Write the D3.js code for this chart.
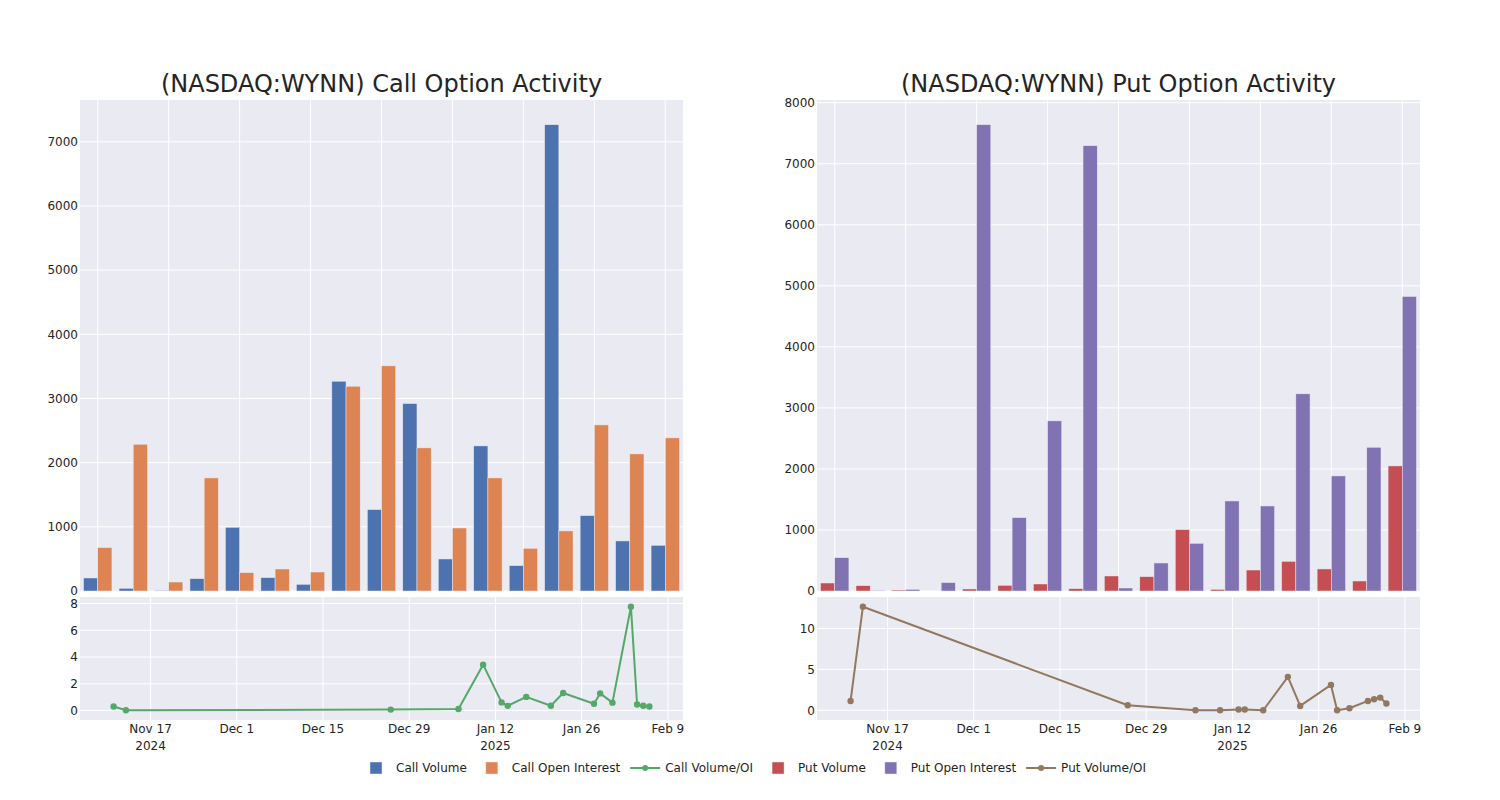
<!DOCTYPE html>
<html>
<head>
<meta charset="utf-8">
<script src="https://cdn.jsdelivr.net/npm/d3@7"></script>
<style>
  html, body { margin: 0; padding: 0; background: #fff; }
  svg { display: block; }
  text { font-family: "DejaVu Sans", verdana, arial, sans-serif; fill: rgb(36,36,36); }
</style>
</head>
<body>
<svg id="chart" width="1500" height="800"></svg>
<script>
// ---------------- DATA ----------------
const dates = ["2024-11-11","2024-11-13","2024-12-26","2025-01-06","2025-01-10","2025-01-13","2025-01-14","2025-01-17","2025-01-21","2025-01-23","2025-01-28","2025-01-29","2025-01-31","2025-02-03","2025-02-04","2025-02-05","2025-02-06"];

const callVolume = [203, 42, 10, 192, 993, 208, 104, 3269, 1268, 2921, 499, 2261, 395, 7266, 1175, 780, 712];
const callOpenInterest = [676, 2287, 140, 1762, 286, 343, 296, 3191, 3508, 2230, 982, 1762, 665, 936, 2588, 2136, 2386];
const callRatio = [0.30, 0.02, 0.07, 0.11, 3.43, 0.61, 0.35, 1.02, 0.36, 1.31, 0.51, 1.28, 0.59, 7.76, 0.45, 0.36, 0.30];

const putVolume = [131, 87, 16, 0, 33, 93, 115, 38, 246, 235, 1005, 27, 344, 486, 361, 164, 2049];
const putOpenInterest = [546, 10, 27, 137, 7639, 1202, 2787, 7295, 49, 459, 781, 1475, 1393, 3230, 1885, 2355, 4825];
const putRatio = [1.14, 12.65, 0.61, 0.0, 0.0, 0.1, 0.1, 0.0, 4.08, 0.53, 3.1, 0.0, 0.24, 1.14, 1.35, 1.55, 0.82];

const callBarTicks = [0, 1000, 2000, 3000, 4000, 5000, 6000, 7000];
const putBarTicks = [0, 1000, 2000, 3000, 4000, 5000, 6000, 7000, 8000];
const callRatioTicks = [0, 2, 4, 6, 8];
const putRatioTicks = [0, 5, 10];
const dateTicks = ["2024-11-17","2024-12-01","2024-12-15","2024-12-29","2025-01-12","2025-01-26","2025-02-09"];

const titles = ["(NASDAQ:WYNN) Call Option Activity", "(NASDAQ:WYNN) Put Option Activity"];
const legendItems = [
  {name: "Call Volume", type: "bar", color: "#4C72B0"},
  {name: "Call Open Interest", type: "bar", color: "#DD8452"},
  {name: "Call Volume/OI", type: "line", color: "#55A868"},
  {name: "Put Volume", type: "bar", color: "#C44E52"},
  {name: "Put Open Interest", type: "bar", color: "#8172B3"},
  {name: "Put Volume/OI", type: "line", color: "#937860"}
];

// ---------------- LAYOUT ----------------
const FONT = '"DejaVu Sans", verdana, arial, sans-serif';
const svg = d3.select("#chart");
const BG = "rgb(234,234,242)";
const TXT = "rgb(36,36,36)";
const parse = d3.timeParse("%Y-%m-%d");
const dateObjs = dates.map(parse);

const panels = [
  {x0: 80, x1: 683, vol: callVolume, oi: callOpenInterest, ratio: callRatio,
   barTicks: callBarTicks, ratioTicks: callRatioTicks, c1: "#4C72B0", c2: "#DD8452", cl: "#55A868", title: titles[0]},
  {x0: 817, x1: 1420, vol: putVolume, oi: putOpenInterest, ratio: putRatio,
   barTicks: putBarTicks, ratioTicks: putRatioTicks, c1: "#C44E52", c2: "#8172B3", cl: "#937860", title: titles[1]}
];
const topY0 = 100, topY1 = 591, botY0 = 597, botY1 = 720;

panels.forEach(p => {
  const g = svg.append("g");
  // ---- top bar chart ----
  g.append("rect").attr("x", p.x0).attr("y", topY0).attr("width", p.x1 - p.x0).attr("height", topY1 - topY0).attr("fill", BG);
  const xb = d3.scaleBand().domain(dates).range([p.x0, p.x1]).paddingInner(0).paddingOuter(0);
  const maxV = d3.max(p.vol.concat(p.oi));
  const yb = d3.scaleLinear().domain([0, maxV * 1.053]).range([topY1, topY0]);

  g.append("g").selectAll("line").data(p.barTicks).join("line")
    .attr("x1", p.x0).attr("x2", p.x1)
    .attr("y1", d => yb(d)).attr("y2", d => yb(d))
    .attr("stroke", "white").attr("stroke-width", 1);
  g.append("g").selectAll("line").data(dates.filter((d, i) => i % 2 === 0)).join("line")
    .attr("x1", d => xb(d) + xb.bandwidth() / 2).attr("x2", d => xb(d) + xb.bandwidth() / 2)
    .attr("y1", topY0).attr("y2", topY1)
    .attr("stroke", "white").attr("stroke-width", 1);

  const barW = xb.bandwidth() * 0.8 / 2;
  const bars = g.append("g");
  bars.selectAll("rect.v").data(dates).join("rect").attr("class", "v")
    .attr("x", (d) => xb(d) + xb.bandwidth() / 2 - barW)
    .attr("width", barW)
    .attr("y", (d, i) => yb(p.vol[i]))
    .attr("height", (d, i) => topY1 - yb(p.vol[i]))
    .attr("fill", p.c1).attr("stroke", BG).attr("stroke-width", 0.5);
  bars.selectAll("rect.o").data(dates).join("rect").attr("class", "o")
    .attr("x", (d) => xb(d) + xb.bandwidth() / 2)
    .attr("width", barW)
    .attr("y", (d, i) => yb(p.oi[i]))
    .attr("height", (d, i) => topY1 - yb(p.oi[i]))
    .attr("fill", p.c2).attr("stroke", BG).attr("stroke-width", 0.5);

  const yAxisTop = d3.axisLeft(yb).tickValues(p.barTicks).tickSize(0).tickPadding(2).tickFormat(d3.format("d"));
  const ga = g.append("g").attr("transform", `translate(${p.x0},0)`).call(yAxisTop);
  ga.select(".domain").remove();
  ga.selectAll("text").attr("font-size", 12).attr("fill", TXT).style("font-family", FONT);

  g.append("text").attr("x", (p.x0 + p.x1) / 2).attr("y", 92).attr("text-anchor", "middle")
    .attr("font-size", 24).attr("fill", TXT).text(p.title);

  // ---- bottom line chart ----
  g.append("rect").attr("x", p.x0).attr("y", botY0).attr("width", p.x1 - p.x0).attr("height", botY1 - botY0).attr("fill", BG);
  const ext = d3.extent(dateObjs);
  const spanMs = ext[1] - ext[0];
  const xl = d3.scaleTime().domain([new Date(+ext[0] - spanMs * 0.0627), new Date(+ext[1] + spanMs * 0.0627)]).range([p.x0, p.x1]);
  const rmin = d3.min(p.ratio), rmax = d3.max(p.ratio);
  const pad = (rmax - rmin) * 0.094;
  const yl = d3.scaleLinear().domain([rmin - pad, rmax + pad]).range([botY1, botY0]);

  const tickDates = dateTicks.map(parse);
  g.append("g").selectAll("line").data(p.ratioTicks).join("line")
    .attr("x1", p.x0).attr("x2", p.x1).attr("y1", d => yl(d)).attr("y2", d => yl(d))
    .attr("stroke", "white").attr("stroke-width", 1);
  g.append("g").selectAll("line").data(tickDates).join("line")
    .attr("x1", d => xl(d)).attr("x2", d => xl(d)).attr("y1", botY0).attr("y2", botY1)
    .attr("stroke", "white").attr("stroke-width", 1);

  const line = d3.line().x((d, i) => xl(dateObjs[i])).y(d => yl(d));
  g.append("path").datum(p.ratio).attr("d", line).attr("fill", "none")
    .attr("stroke", p.cl).attr("stroke-width", 2).attr("stroke-linejoin", "round");
  g.append("g").selectAll("circle").data(p.ratio).join("circle")
    .attr("cx", (d, i) => xl(dateObjs[i])).attr("cy", d => yl(d)).attr("r", 3.2)
    .attr("fill", p.cl);

  const yAxisBot = d3.axisLeft(yl).tickValues(p.ratioTicks).tickSize(0).tickPadding(2).tickFormat(d3.format("d"));
  const gb = g.append("g").attr("transform", `translate(${p.x0},0)`).call(yAxisBot);
  gb.select(".domain").remove();
  gb.selectAll("text").attr("font-size", 12).attr("fill", TXT).style("font-family", FONT);

  const fmtMain = d3.timeFormat("%b %-d");
  const fmtYear = d3.timeFormat("%Y");
  const xt = g.append("g");
  tickDates.forEach((d, i) => {
    xt.append("text").attr("x", xl(d)).attr("y", 733).attr("text-anchor", "middle").attr("font-size", 12).attr("fill", TXT).text(fmtMain(d));
    const prev = i > 0 ? tickDates[i - 1] : null;
    if (i === 0 || fmtYear(prev) !== fmtYear(d)) {
      xt.append("text").attr("x", xl(d)).attr("y", 749.5).attr("text-anchor", "middle").attr("font-size", 12).attr("fill", TXT).text(fmtYear(d));
    }
  });
});

// ---------------- LEGEND ----------------
const lg = svg.append("g").attr("transform", "translate(0,768)");
let lx = 356;
legendItems.forEach(it => {
  const item = lg.append("g").attr("transform", `translate(${lx},0)`);
  if (it.type === "bar") {
    item.append("rect").attr("x", 14).attr("y", -6).attr("width", 12).attr("height", 12)
      .attr("fill", it.color).attr("stroke", BG).attr("stroke-width", 0.5);
  } else {
    item.append("line").attr("x1", 5).attr("x2", 35).attr("y1", 0).attr("y2", 0)
      .attr("stroke", it.color).attr("stroke-width", 2);
    item.append("circle").attr("cx", 20).attr("cy", 0).attr("r", 3).attr("fill", it.color);
  }
  const t = item.append("text").attr("x", 40).attr("y", 4.3).attr("font-size", 12).attr("fill", TXT).text(it.name);
  const w = t.node().getComputedTextLength();
  lx += 40 + w + 5;
});
</script>
</body>
</html>
